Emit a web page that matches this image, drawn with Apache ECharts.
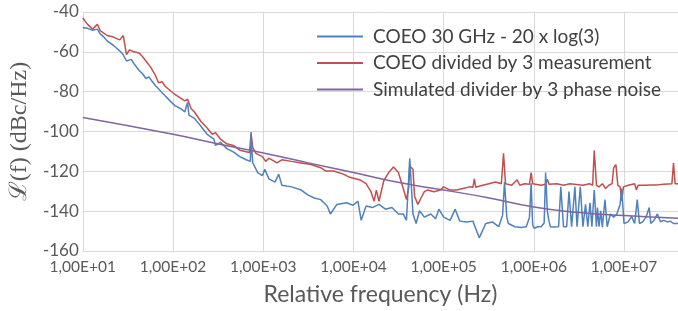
<!DOCTYPE html>
<html>
<head>
<meta charset="utf-8">
<script src="https://cdn.jsdelivr.net/npm/echarts@6/dist/echarts.min.js"></script>
<style>
  html, body { margin: 0; padding: 0; background: #fff; }
  #chart { width: 678px; height: 311px; }
</style>
</head>
<body>
<div id="chart"></div>
<script>
// Datos: [frecuencia (Hz), dBc/Hz]
const seriesNames = [
  'COEO 30 GHz - 20 x log(3)',
  'COEO divided by 3 measurement',
  'Simulated divider by 3 phase noise'
];

const coeoBlue = [
  [10,-47.8],[11.3,-48.2],[12.8,-49.2],[14.5,-48.6],[15.6,-51],[17.1,-52.6],[18.6,-54.5],[20,-55.5],
  [21.9,-56.8],[23.8,-58.2],[25.6,-59.5],[28.1,-61.5],[30.5,-64.6],[34.5,-63.8],[37,-66],[42.1,-69.4],
  [46,-71],[50.1,-73.4],[54,-72.6],[58,-74.5],[64.1,-77],[69.1,-78.5],[75.7,-80.5],[82.2,-82.2],
  [92,-84.5],[105,-87],[124,-88.8],[135,-90.2],[145,-85.4],[150,-91.8],[173,-93.4],[204,-97.4],
  [239,-101.4],[284,-103.8],[296,-107],[335,-105.4],[395,-108.6],[466,-110.2],[550,-112.6],
  [648,-114.2],[720,-115],[733,-100.3],[746,-108],[765,-115.8],[800,-117.4],[866,-120.6],
  [980,-122.2],[1040,-119],[1157,-123.8],[1352,-125.4],[1483,-121.4],[1610,-127],[2061,-127.8],
  [2640,-129.4],[3119,-131.8],[3673,-133.4],[4335,-134.2],[5118,-137.4],[5555,-141.4],[6556,-136.6],
  [8406,-135.8],[9900,-137],[11210,-135],[12190,-144.6],[13800,-137.4],[16250,-138.2],[19190,-136.6],
  [22650,-139],[26700,-138.2],[31500,-141.4],[35650,-141.4],[38700,-144.6],[42100,-113.4],
  [45700,-141.4],[49550,-146.2],[53950,-139.8],[61100,-143],[71900,-141.4],[81400,-143.8],
  [88500,-139],[1.0e5,-143],[1.18e5,-144.6],[1.34e5,-139],[1.51e5,-145],[1.79e5,-145.4],
  [2.11e5,-145],[2.48e5,-153.4],[2.93e5,-146.2],[3.46e5,-145.4],[4.08e5,-147.8],[4.5e5,-142],
  [4.73e5,-125.4],[5.01e5,-143],[5.22e5,-146.2],[6.17e5,-147.8],[7.28e5,-148.2],[8.24e5,-147.8],
  [8.94e5,-143],[9.33e5,-126],[9.7e5,-147],[1.01e6,-148.6],[1.10e6,-147.8],[1.20e6,-147.8],
  [1.30e6,-146],[1.35e6,-120.6],[1.41e6,-140],[1.47e6,-145],[1.53e6,-147.8],[1.66e6,-148],
  [1.88e6,-147.8],[1.99e6,-127.8],[2.13e6,-147.8],[2.31e6,-147.8],[2.45e6,-130.2],[2.62e6,-147.8],
  [2.85e6,-127.8],[3.01e6,-147.8],[3.27e6,-127.8],[3.50e6,-147.8],[3.74e6,-136.6],[3.96e6,-147.8],
  [4.19e6,-135.8],[4.40e6,-147.8],[4.67e6,-129.4],[4.94e6,-147.8],[5.07e6,-138.2],[5.28e6,-147.8],
  [5.5e6,-139.8],[5.74e6,-148],[6.14e6,-134.2],[6.50e6,-147.8],[7.05e6,-141.4],[7.67e6,-143],
  [8.32e6,-141.4],[9.03e6,-136.6],[9.42e6,-128.6],[9.98e6,-146.2],[1.11e7,-145.4],[1.21e7,-142.6],
  [1.31e7,-146.2],[1.40e7,-134.2],[1.48e7,-146.2],[1.61e7,-145.4],[1.75e7,-143],[1.90e7,-138.2],
  [1.98e7,-146.2],[2.15e7,-144.6],[2.34e7,-141.4],[2.54e7,-145.4],[2.75e7,-144.6],[3.00e7,-145.4],
  [3.25e7,-145],[3.53e7,-146.2],[3.96e7,-146.2]
];

const coeoRed = [
  [10,-43],[11.3,-46.2],[12.8,-48.6],[14.5,-46.2],[15.6,-49.4],[18.6,-51.8],[21.9,-52.6],[25.6,-54],
  [28.1,-51.8],[30.5,-61.4],[32.9,-59],[36,-59.8],[42.1,-60.6],[46,-62.5],[50.1,-64.6],[56.7,-67.8],
  [64.1,-72],[69.1,-75.5],[75.7,-75],[82.2,-77.4],[105,-81.4],[135,-84.6],[145,-83.8],[159,-88.6],
  [173,-90.2],[204,-95],[239,-98.2],[272,-101.4],[296,-100.6],[335,-103.8],[395,-106.2],[466,-107],
  [550,-109.4],[648,-110.2],[705,-110.5],[733,-101],[746,-101.4],[765,-108],[830,-111],[980,-112.6],
  [1064,-115],[1157,-113.4],[1422,-115.8],[1610,-114.2],[2061,-115],[2640,-115.8],[3385,-116.6],
  [4335,-118.2],[4900,-119.8],[6030,-119.8],[7730,-121.4],[9120,-123],[10770,-123.8],[11690,-124.2],
  [13800,-126.2],[15630,-130.2],[16950,-135],[17950,-129.4],[19190,-135],[21720,-124.6],
  [24600,-120.6],[27830,-117.8],[31500,-120.6],[35650,-128.6],[38700,-134.2],[41000,-128],
  [42100,-117.4],[45700,-119],[47650,-132.6],[51720,-136.6],[56100,-133.4],[61100,-130.2],
  [66200,-129.4],[78200,-130.2],[92100,-129.4],[1.0e5,-127.8],[1.18e5,-129.4],[1.39e5,-129.4],
  [1.64e5,-128.6],[1.94e5,-127.8],[2.11e5,-128],[2.19e5,-123.8],[2.27e5,-128],[2.70e5,-127],
  [3.18e5,-126.2],[3.76e5,-125.4],[4.36e5,-126.2],[4.61e5,-111],[4.85e5,-126.2],[5.68e5,-127],
  [6.53e5,-124.2],[6.98e5,-127],[7.90e5,-126.2],[8.94e5,-126.5],[9.33e5,-120.6],[9.7e5,-126.2],
  [1.20e6,-127],[1.35e6,-126.5],[1.41e6,-124],[1.47e6,-126.5],[1.80e6,-126.2],[2.13e6,-127],
  [2.51e6,-126.2],[3.50e6,-127],[4.13e6,-126.2],[4.48e6,-127],[4.67e6,-109.5],[4.94e6,-127],
  [5.28e6,-127.8],[5.74e6,-126.2],[6.23e6,-128.6],[6.78e6,-127],[7.36e6,-126.2],[7.67e6,-118.2],
  [8.12e6,-116.6],[8.53e6,-127],[9.03e6,-127.8],[9.42e6,-135],[9.83e6,-127.8],[1.11e7,-127],
  [1.31e7,-126.2],[1.37e7,-129.4],[1.43e7,-127],[1.68e7,-127],[1.98e7,-126.8],[2.34e7,-126.8],
  [2.75e7,-126.5],[3.39e7,-126.2],[3.53e7,-115.8],[3.68e7,-126.2],[3.96e7,-126.2]
];

const simulatedPurple = [
  [10,-93],[100,-101.4],[300,-106],[1000,-110.8],[3000,-115.5],[1e4,-120.6],[3e4,-125.4],
  [1e5,-129.4],[3e5,-133.1],[1e6,-137.9],[3e6,-140.6],[1e7,-142.2],[3.96e7,-143.5]
];

const xMin = 10, xMax = 3.96e7;
const yMin = -160, yMax = -40, yStep = 20;

const chart = echarts.init(document.getElementById('chart'));

const sans = 'Lato, "Open Sans", sans-serif';
const gridLine = { lineStyle: { color: '#d9d9d9', width: 1 } };

const option = {
  animation: false,
  grid: { left: 65, right: 0, top: 12, bottom: 49, containLabel: false },
  legend: {
    data: seriesNames,
    orient: 'vertical',
    left: 317,
    top: 27,
    padding: 0,
    itemWidth: 46,
    itemHeight: 2,
    itemGap: 7.5,
    icon: 'rect',
    textStyle: { fontFamily: sans, fontSize: 19, color: '#404040', padding: [0, 0, 0, 5] }
  },
  xAxis: {
    type: 'log',
    logBase: 10,
    min: xMin,
    max: xMax,
    name: 'Relative frequency (Hz)',
    nameLocation: 'middle',
    nameGap: 32,
    nameTextStyle: { fontFamily: sans, fontSize: 23, color: '#595959' },
    axisLine: { lineStyle: { color: '#d9d9d9' } },
    axisTick: { show: false },
    splitLine: gridLine,
    axisLabel: {
      fontFamily: sans, fontSize: 15.5, color: '#595959', margin: 8,
      showMaxLabel: false,
      formatter: v => {
        const e = Math.round(Math.log10(v));
        if (Math.abs(Math.log10(v) - e) > 1e-6) return '';
        return '1,00E+' + String(e).padStart(2, '0');
      }
    }
  },
  yAxis: {
    type: 'value',
    min: yMin,
    max: yMax,
    interval: yStep,
    name: 'ℒ(f) (dBc/Hz)',
    nameLocation: 'middle',
    nameGap: 30,
    nameTextStyle: { fontFamily: '"Liberation Serif", "DejaVu Serif", serif', fontSize: 24, color: '#595959' },
    axisLine: { show: true, lineStyle: { color: '#d9d9d9' } },
    axisTick: { show: false },
    splitLine: gridLine,
    axisLabel: { fontFamily: sans, fontSize: 17, color: '#595959', margin: 4 }
  },
  series: [
    {
      name: seriesNames[1], type: 'line', data: coeoRed, symbol: 'none', z: 2,
      itemStyle: { color: '#C0504D' }, lineStyle: { color: '#C0504D', width: 1.5 }
    },
    {
      name: seriesNames[0], type: 'line', data: coeoBlue, symbol: 'none', z: 3,
      itemStyle: { color: '#4F81BD' }, lineStyle: { color: '#4F81BD', width: 1.5 }
    },
    {
      name: seriesNames[2], type: 'line', data: simulatedPurple, symbol: 'none', smooth: true, z: 4,
      itemStyle: { color: '#8064A2' }, lineStyle: { color: '#8064A2', width: 1.5 }
    }
  ]
};

chart.setOption(option);
</script>
</body>
</html>
